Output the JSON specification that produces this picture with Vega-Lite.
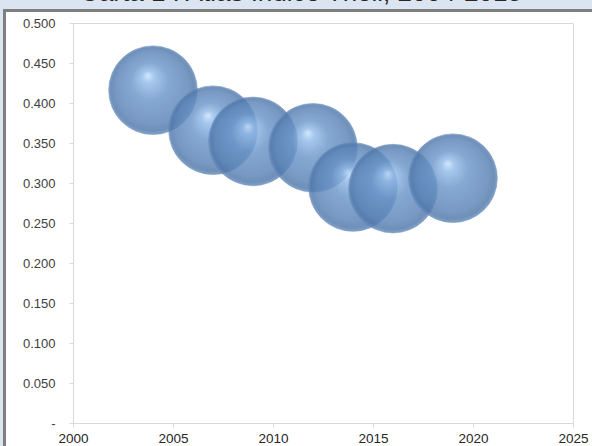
{
  "$schema": "https://vega.github.io/schema/vega-lite/v6.json",
  "autosize": "none",
  "width": 500,
  "height": 400,
  "padding": {"left": 73, "top": 23, "right": 19, "bottom": 23},
  "background": "white",
  "title": {
    "text": "Carta 1 : Atlas Índice Theil, 2004-2018",
    "font": "Liberation Sans",
    "fontSize": 26,
    "fontWeight": "normal",
    "color": "#262626",
    "anchor": "middle",
    "frame": "group",
    "baseline": "alphabetic",
    "offset": -12,
    "dx": -22,
    "dy": 15
  },
  "config": {
    "view": {"stroke": "#d9d9d9", "strokeWidth": 1},
    "axis": {
      "gridColor": "#d9d9d9",
      "tickColor": "#d9d9d9",
      "domain": false,
      "labelFont": "Liberation Sans",
      "labelColor": "#262626",
      "labelOverlap": false,
      "title": null
    },
    "axisX": {"tickCount": 5, "labelFontSize": 13.5, "tickSize": 4, "labelPadding": 4, "labelFlush": false, "format": "d"},
    "axisY": {"tickCount": 10, "labelFontSize": 13, "labelColor": "#404040", "tickSize": 4, "labelPadding": 14}
  },
  "data": {
    "values": [
      {"year": 2004, "theil": 0.416},
      {"year": 2007, "theil": 0.366},
      {"year": 2009, "theil": 0.352},
      {"year": 2012, "theil": 0.344},
      {"year": 2014, "theil": 0.295},
      {"year": 2016, "theil": 0.293},
      {"year": 2019, "theil": 0.306}
    ]
  },
  "layer": [
    {
      "mark": {"type": "rect", "fill": "#dbe5f1", "clip": false},
      "encoding": {
        "x": {"datum": 1996.35, "type": "quantitative", "scale": {"domain": [2000, 2025], "nice": false, "zero": false}},
        "x2": {"datum": 1996.575},
        "y": {
          "datum": 0.52875,
          "type": "quantitative",
          "scale": {"domain": [0, 0.5], "nice": false},
          "axis": {"labelExpr": "datum.value == 0 ? '-' : format(datum.value, '.3f')"}
        },
        "y2": {"datum": -0.05}
      }
    },
    {
      "mark": {"type": "rect", "fill": "#dbe5f1", "clip": false},
      "encoding": {
        "x": {"datum": 1996.35, "type": "quantitative"},
        "x2": {"datum": 2027},
        "y": {"datum": 0.52875, "type": "quantitative"},
        "y2": {"datum": 0.515625}
      }
    },
    {
      "mark": {"type": "rect", "fill": null, "stroke": "#7f7f7f", "strokeWidth": 2, "clip": false},
      "encoding": {
        "x": {"datum": 1996.575, "type": "quantitative"},
        "x2": {"datum": 2027},
        "y": {"datum": 0.515625, "type": "quantitative"},
        "y2": {"datum": -0.05}
      }
    },
    {
      "mark": {
        "type": "point",
        "shape": "circle",
        "filled": true,
        "size": 7850,
        "opacity": 0.82,
        "fill": {
          "gradient": "radial",
          "x1": 0.44, "y1": 0.33, "r1": 0,
          "x2": 0.5, "y2": 0.5, "r2": 0.5,
          "stops": [
            {"offset": 0, "color": "#c8e4ff"},
            {"offset": 0.14, "color": "#93bbe9"},
            {"offset": 0.42, "color": "#6b96c9"},
            {"offset": 0.82, "color": "#5a83b6"},
            {"offset": 0.94, "color": "#4f77a9"},
            {"offset": 1, "color": "#6a8fbf"}
          ]
        },
        "stroke": "#5a82b5",
        "strokeWidth": 0.6
      },
      "encoding": {
        "x": {"field": "year", "type": "quantitative", "scale": {"domain": [2000, 2025], "nice": false, "zero": false}},
        "y": {
          "field": "theil",
          "type": "quantitative",
          "scale": {"domain": [0, 0.5], "nice": false},
          "axis": {"labelExpr": "datum.value == 0 ? '-' : format(datum.value, '.3f')"}
        }
      }
    }
  ]
}
